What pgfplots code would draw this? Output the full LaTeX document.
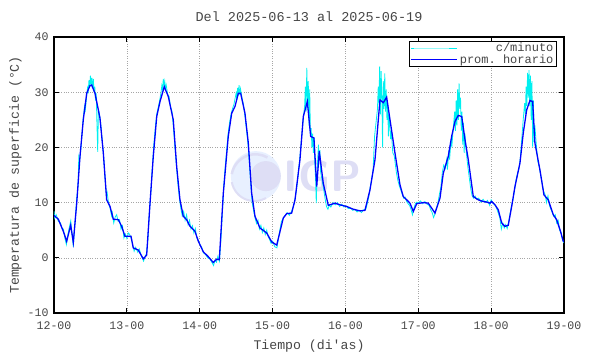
\documentclass[border=0pt]{standalone}
\usepackage{pgfplots}
\pgfplotsset{compat=1.18}
\usepackage{fontspec}
\setmonofont{Liberation Mono}
\renewcommand{\familydefault}{\ttdefault}
\definecolor{txt}{RGB}{70,70,70}
\definecolor{cyanline}{RGB}{0,240,240}
\definecolor{cyanpale}{RGB}{150,250,250}
\definecolor{blueline}{RGB}{0,0,255}
\definecolor{wm}{RGB}{222,222,245}
\definecolor{wmlight}{RGB}{232,240,255}
\begin{document}
\begin{tikzpicture}
\path[use as bounding box] (-54pt,-41pt) rectangle (536pt,313pt);
\begin{axis}[
  at={(0pt,0pt)}, anchor=south west,
  scale only axis, width=510pt, height=276pt,
  xmin=0, xmax=7, ymin=-10, ymax=40,
  xtick={0,1,2,3,4,5,6,7},
  xticklabels={12-00,13-00,14-00,15-00,16-00,17-00,18-00,19-00},
  ytick={-10,0,10,20,30,40},
  /pgf/number format/assume math mode=true,
  tick label style={font=\fontsize{11.6}{12}\selectfont, text=txt},
  tick align=inside, major tick length=5pt,
  tick style={black, line width=0.9pt},
  axis line style={black, line width=1.3pt},
  xticklabel style={yshift=-5pt},
  yticklabel style={xshift=-2pt},
  grid=major,
  major grid style={gray!70, dotted, line width=0.6pt},
  xlabel={Tiempo (di'as)},
  ylabel={Temperatura de superficie (°C)},
  label style={font=\fontsize{13.2}{14}\selectfont, text=txt},
  xlabel style={yshift=-4pt},
  ylabel style={yshift=-1pt},
  legend style={at={(0.986,0.986)}, anchor=north east, draw=black, line width=0.8pt,
    font=\fontsize{12}{12}\selectfont, text=txt, inner xsep=1pt, inner ysep=0pt,
    row sep=-3pt, fill=white},
  legend cell align=right,
]
% watermark
\fill[wmlight] (axis cs:2.77,14.8) circle[radius=25pt];
\fill[wm] (axis cs:2.77,14.8) ++(10pt,0pt) circle[radius=15pt];
\draw[wm, line width=2.5pt] (axis cs:2.77,14.8) ++(-24pt,2pt) arc[start angle=170,end angle=60,radius=24pt];
\draw[wm, line width=2pt] (axis cs:2.77,14.8) ++(-24pt,-6pt) arc[start angle=190,end angle=300,radius=23pt];
\node[text=wm, font=\fontsize{44}{44}\selectfont\sffamily\bfseries] at (axis cs:3.69,14.8) {IGP};

\addplot[cyanline, line width=0.8pt,
  legend image code/.code={\path (-3pt,0pt) -- (43pt,0pt);\draw[cyanpale, line width=0.8pt] (0pt,0pt) -- (35pt,0pt);}]
coordinates {
(0,8.5)(0.01,7.2)(0.03,7.8)(0.06,6.6)(0.09,6.3)(0.11,5.3)(0.13,5.2)(0.15,3.5)(0.17,2.4)(0.19,4.2)
(0.21,5.5)(0.23,6.7)(0.25,4.0)(0.265,2.0)(0.28,5.0)(0.30,8.5)(0.31,10.5)(0.33,13)(0.34,18.2)(0.35,17.5)
(0.37,19.8)(0.39,23.5)(0.40,25.2)(0.42,27.5)(0.43,26.8)(0.45,29.5)(0.46,30.8)(0.47,30.2)(0.48,32.2)(0.49,31.0)
(0.50,33.0)(0.51,31.5)(0.52,32.6)(0.53,30.8)(0.54,32.4)(0.55,30.0)(0.56,31.0)(0.57,28.5)(0.58,29.8)(0.59,24.0)
(0.60,19.2)(0.61,27.0)(0.62,26.2)(0.64,24.5)(0.66,21.5)(0.68,18.5)(0.70,14.5)(0.72,11.2)(0.73,11.8)(0.75,9.8)
(0.77,9.0)(0.79,7.6)(0.80,8.2)(0.82,6.3)(0.84,7.4)(0.86,7.8)(0.88,6.6)(0.90,6.9)(0.92,5.2)(0.94,5.8)
(0.96,3.6)(0.98,4.3)(1.00,3.5)(1.02,4.5)(1.04,4.2)(1.06,3.5)(1.08,2.3)(1.10,1.2)(1.12,1.9)(1.15,1.0)
(1.17,1.6)(1.20,0.3)(1.23,-0.6)(1.25,0.2)(1.27,0.8)(1.29,3.5)(1.31,8.5)(1.33,12.0)(1.35,16.5)(1.37,20.5)
(1.39,23.5)(1.41,26.0)(1.43,27.2)(1.45,28.5)(1.47,30.0)(1.48,31.2)(1.49,30.5)(1.50,32.4)(1.51,31.2)(1.52,32.0)
(1.53,30.6)(1.54,31.3)(1.56,29.6)(1.58,29.2)(1.60,27.3)(1.62,26.5)(1.64,23.5)(1.66,20.0)(1.68,16.8)(1.70,13.5)
(1.72,11.0)(1.74,9.0)(1.76,7.6)(1.78,8.4)(1.80,6.8)(1.82,7.8)(1.84,6.0)(1.86,6.8)(1.88,5.2)(1.90,5.8)
(1.92,4.5)(1.94,5.3)(1.96,3.6)(1.98,3.2)(2.00,2.5)(2.03,1.8)(2.05,0.9)(2.08,0.6)(2.11,0.0)(2.14,-0.2)
(2.17,-0.9)(2.19,-1.4)(2.21,-0.4)(2.23,-0.8)(2.25,0.3)(2.27,-0.6)(2.29,3.0)(2.31,8.0)(2.33,13.0)(2.35,16.5)
(2.37,19.5)(2.39,22.5)(2.41,24.5)(2.43,26.0)(2.45,27.0)(2.47,27.8)(2.48,28.5)(2.50,29.8)(2.51,28.6)(2.52,30.8)
(2.53,29.4)(2.54,31.3)(2.55,29.5)(2.56,30.6)(2.58,29.0)(2.60,27.8)(2.62,25.8)(2.64,23.5)(2.66,21.0)(2.68,17.5)
(2.70,13.5)(2.72,10.0)(2.74,8.5)(2.76,7.2)(2.78,6.2)(2.80,6.8)(2.82,5.2)(2.84,5.9)(2.86,4.6)(2.88,5.4)
(2.90,4.2)(2.92,5.0)(2.94,3.8)(2.96,3.3)(2.98,2.6)(3.00,3.0)(3.03,2.0)(3.06,1.8)(3.08,3.5)(3.10,5.0)
(3.12,6.5)(3.15,7.3)(3.18,7.8)(3.20,8.2)(3.23,7.7)(3.26,8.4)(3.29,9.5)(3.31,10.8)(3.33,12.5)(3.35,15.0)
(3.37,17.5)(3.39,20.5)(3.40,22.0)(3.42,25.0)(3.44,27.5)(3.45,31.0)(3.46,26.5)(3.47,34.4)(3.48,28.0)(3.49,32.0)
(3.50,24.0)(3.51,30.5)(3.52,22.0)(3.53,23.5)(3.54,20.0)(3.55,22.5)(3.56,19.0)(3.57,21.8)(3.58,17.0)(3.59,14.5)
(3.60,9.9)(3.61,15.0)(3.62,18.0)(3.63,20.5)(3.64,17.8)(3.65,19.5)(3.66,15.5)(3.68,14.0)(3.70,12.5)(3.72,10.8)
(3.74,9.3)(3.76,8.8)(3.78,9.6)(3.80,9.2)(3.83,10.0)(3.86,9.6)(3.89,10.0)(3.92,9.3)(3.95,9.7)(3.98,9.2)
(4.01,9.4)(4.04,8.9)(4.07,9.0)(4.10,8.6)(4.13,8.8)(4.16,8.3)(4.19,8.6)(4.22,8.2)(4.25,8.7)(4.28,8.8)
(4.30,9.8)(4.32,11.0)(4.34,12.8)(4.36,14.2)(4.38,16.0)(4.40,22.0)(4.42,24.5)(4.44,27.0)(4.45,31.0)(4.46,28.0)
(4.47,34.7)(4.48,26.0)(4.49,33.8)(4.50,29.5)(4.51,20.0)(4.52,32.0)(4.53,27.0)(4.54,33.4)(4.55,26.5)(4.56,30.5)
(4.57,25.0)(4.58,27.8)(4.59,22.0)(4.60,26.0)(4.62,21.5)(4.63,23.0)(4.65,19.0)(4.67,18.5)(4.70,15.4)(4.72,14.0)
(4.74,13.0)(4.76,12.3)(4.78,11.5)(4.80,10.8)(4.82,11.0)(4.84,10.2)(4.86,9.8)(4.88,9.5)(4.90,8.8)(4.92,7.8)
(4.94,9.0)(4.96,9.8)(4.98,10.1)(5.00,9.9)(5.03,10.3)(5.06,9.8)(5.09,10.2)(5.12,9.7)(5.15,9.5)(5.17,8.7)
(5.19,8.2)(5.21,7.3)(5.23,8.0)(5.25,9.0)(5.27,10.0)(5.29,11.5)(5.31,12.8)(5.33,15.5)(5.35,16.8)(5.37,16.2)
(5.39,17.8)(5.40,16.0)(5.42,19.5)(5.43,17.8)(5.45,21.5)(5.46,20.0)(5.48,23.5)(5.50,26.5)(5.51,23.0)(5.52,28.5)
(5.53,24.0)(5.54,30.5)(5.55,25.0)(5.56,31.6)(5.57,27.0)(5.58,29.0)(5.59,23.0)(5.60,26.5)(5.61,20.5)(5.62,24.5)
(5.63,19.0)(5.64,22.5)(5.66,19.0)(5.68,16.5)(5.70,14.5)(5.72,12.5)(5.74,11.2)(5.76,10.8)(5.78,11.2)(5.80,10.6)
(5.83,10.8)(5.86,10.1)(5.89,10.6)(5.92,10.0)(5.95,10.4)(5.98,9.5)(6.00,10.5)(6.03,9.8)(6.06,9.4)(6.08,8.8)
(6.10,8.0)(6.12,7.2)(6.14,5.2)(6.16,6.3)(6.18,5.4)(6.20,6.0)(6.22,5.3)(6.24,6.5)(6.26,8.0)(6.28,9.5)
(6.30,10.5)(6.32,12.2)(6.34,14.0)(6.36,15.2)(6.38,16.0)(6.40,18.0)(6.42,21.5)(6.44,25.0)(6.46,28.0)(6.47,26.0)
(6.48,31.0)(6.49,27.5)(6.50,33.5)(6.51,29.0)(6.52,34.0)(6.53,27.5)(6.54,33.0)(6.55,25.0)(6.56,32.0)(6.57,20.0)
(6.58,28.5)(6.59,21.0)(6.60,24.0)(6.62,20.5)(6.64,17.5)(6.66,16.5)(6.68,15.0)(6.70,13.5)(6.72,12.0)(6.74,11.5)
(6.76,10.0)(6.78,11.2)(6.80,9.5)(6.82,8.8)(6.84,8.2)(6.86,7.5)(6.88,7.8)(6.90,6.3)(6.92,6.8)(6.94,5.0)
(6.96,4.6)(6.98,3.2)(7.00,2.7)
};
\addlegendentry{c/minuto}

\addplot[blueline, line width=1.3pt,
  legend image code/.code={\path (-3pt,0pt) -- (43pt,0pt);\draw[blueline, line width=1pt] (0pt,0pt) -- (35pt,0pt);}]
coordinates {
(0,7.7)(0.014,7.5)(0.059,7.0)(0.128,4.8)(0.174,3.0)(0.229,5.9)(0.265,2.8)(0.312,9.9)(0.357,18.4)(0.402,25.0)
(0.449,29.8)(0.494,31.2)(0.517,31.3)(0.563,29.8)(0.631,25.3)(0.677,19.0)(0.723,10.5)(0.769,9.3)(0.814,7.0)(0.883,6.9)
(0.929,5.7)(0.974,3.9)(1.057,3.9)(1.088,1.8)(1.157,1.4)(1.226,-0.2)(1.272,0.5)(1.318,9.9)(1.363,18.4)(1.410,25.6)
(1.455,28.3)(1.514,31.0)(1.569,29.2)(1.637,25.0)(1.684,16.5)(1.729,10.5)(1.775,7.5)(1.821,6.9)(1.867,5.7)(1.935,4.8)
(1.981,3.0)(2.049,1.1)(2.118,0.2)(2.186,-0.85)(2.233,-0.25)(2.269,-0.35)(2.324,11.7)(2.392,22.0)(2.439,26.2)(2.484,27.4)
(2.530,29.8)(2.562,29.8)(2.621,26.2)(2.667,20.8)(2.713,11.7)(2.759,7.5)(2.827,5.4)(2.919,4.5)(2.988,2.9)(3.057,2.3)
(3.147,7.2)(3.194,8.0)(3.262,8.1)(3.308,10.5)(3.376,17.8)(3.422,25.6)(3.477,28.3)(3.523,22.0)(3.568,21.7)(3.606,12.9)
(3.641,19.3)(3.696,13.5)(3.765,9.5)(3.857,9.9)(3.925,9.6)(4.017,9.3)(4.108,8.8)(4.200,8.5)(4.268,8.6)(4.337,12.3)
(4.406,17.8)(4.474,28.6)(4.520,28.1)(4.566,29.1)(4.612,25.0)(4.680,19.0)(4.749,13.2)(4.794,11.1)(4.841,10.5)(4.886,9.9)
(4.932,8.4)(4.978,9.8)(5.069,10.0)(5.137,9.9)(5.184,9.0)(5.229,8.1)(5.298,10.8)(5.343,15.3)(5.412,18.4)(5.458,22.0)
(5.504,24.7)(5.549,25.8)(5.596,25.6)(5.641,21.4)(5.686,17.8)(5.755,11.1)(5.824,10.5)(5.892,10.2)(5.939,10.1)(5.984,9.9)
(6.007,10.2)(6.053,9.6)(6.098,8.7)(6.145,6.3)(6.190,5.7)(6.235,5.9)(6.282,9.3)(6.327,12.9)(6.396,17.2)(6.441,22.6)
(6.488,26.8)(6.533,28.5)(6.570,28.3)(6.601,20.8)(6.670,15.9)(6.725,11.4)(6.784,10.5)(6.853,7.8)(6.899,6.9)(6.945,5.1)
(6.990,3.0)(7.0,2.9)
};
\addlegendentry{prom. horario}
\end{axis}
\node[font=\fontsize{13.5}{14}\selectfont, text=txt] at (255pt,296pt) {Del 2025-06-13 al 2025-06-19};
\end{tikzpicture}
\end{document}
